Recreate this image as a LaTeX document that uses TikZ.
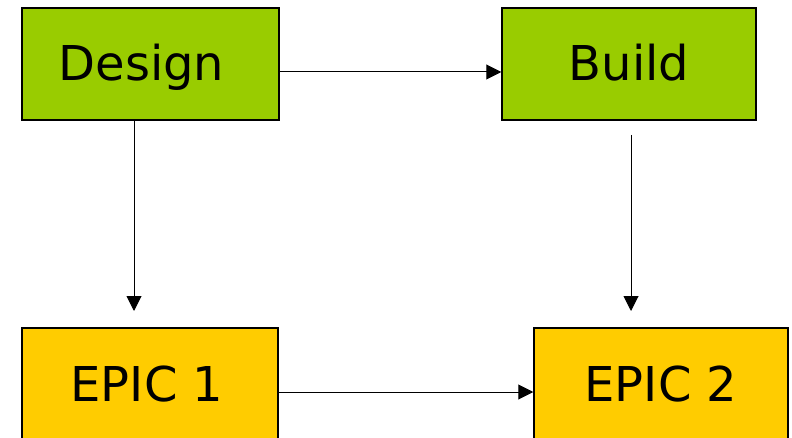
\documentclass[tikz,border=0pt]{standalone}
\usepackage{fontspec}
\setmainfont{DejaVu Sans}
\usetikzlibrary{arrows.meta}
\definecolor{boxgreen}{HTML}{99CC00}
\definecolor{boxyellow}{HTML}{FFCC00}
\begin{document}
\begin{tikzpicture}[x=1pt,y=1pt,
  box/.style={draw=black, line width=1.5pt, minimum height=112pt, inner sep=0pt,
    font=\fontsize{48}{56}\selectfont, text height=34pt, text depth=0pt},
  conn/.style={line width=1pt, -{Triangle[length=15pt,width=15pt]}}]
\useasboundingbox (0,0) rectangle (792,437);
\clip (0,0) rectangle (792,437);
\fill[white] (0,0) rectangle (792,437);
\node[box, fill=boxgreen, minimum width=257pt] (design) at (150.5,373) {Design\kern18pt};
\node[box, fill=boxgreen, minimum width=254pt] (build) at (629,373) {Build};
\node[box, fill=boxyellow, minimum width=256pt] (epic1) at (150,53) {EPIC 1\kern6pt};
\node[box, fill=boxyellow, minimum width=254pt] (epic2) at (661,53) {EPIC 2};
\coordinate (d1) at (134,126);
\coordinate (b0) at (631,302);
\coordinate (b1) at (631,126);
\draw[conn] ([yshift=-8pt]design.east) -- ([yshift=-8pt]build.west);
\draw[conn] (design.south -| d1) -- (d1);
\draw[conn] (b0) -- (b1);
\draw[conn] ([yshift=-8pt]epic1.east) -- ([yshift=-8pt]epic2.west);
\end{tikzpicture}
\end{document}
